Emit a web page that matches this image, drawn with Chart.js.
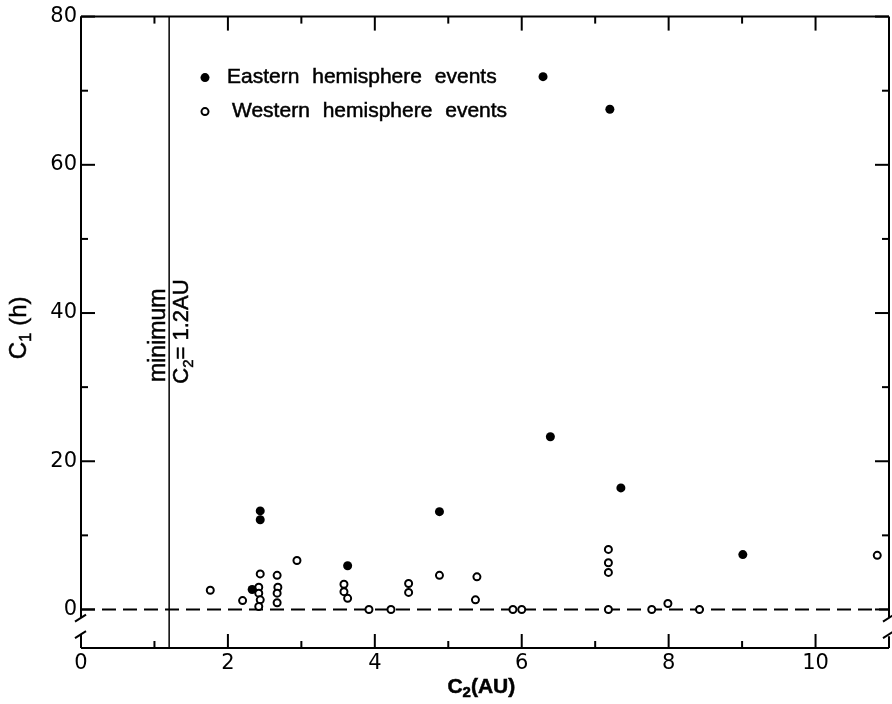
<!DOCTYPE html>
<html>
<head>
<meta charset="utf-8">
<script src="https://cdn.jsdelivr.net/npm/chart.js@4.4.1/dist/chart.umd.min.js"></script>
<style>
  html, body { margin: 0; padding: 0; background: #fff; }
</style>
</head>
<body>
<canvas id="c1c2Chart" width="892" height="704"></canvas>
<script>
// C2 (AU) vs C1 (h)
var eastX = [6.29, 7.20, 6.39, 7.35, 4.88, 2.44, 2.44, 3.63, 9.01, 2.33];
var eastY = [71.9, 67.5, 23.3, 16.4, 13.2, 13.3, 12.1, 5.9, 7.4, 2.7];

var westX = [1.76, 2.20, 2.44, 2.42, 2.42, 2.44, 2.42, 2.67, 2.68, 2.67, 2.67, 2.94,
             3.58, 3.58, 3.63, 3.92, 4.22, 4.46, 4.46, 4.88, 5.39, 5.37, 5.88, 6.00,
             7.18, 7.18, 7.18, 7.18, 7.77, 7.99, 8.42, 10.84];
var westY = [2.6, 1.2, 4.8, 3.0, 2.2, 1.3, 0.4, 4.6, 3.0, 2.2, 0.9, 6.6,
             3.4, 2.4, 1.5, 0, 0, 3.5, 2.3, 4.6, 4.4, 1.3, 0, 0,
             8.1, 6.3, 5.0, 0, 0, 0.8, 0, 7.3];

var minC2 = 1.2;
var xTicks = [0, 2, 4, 6, 8, 10];
var xMinor = [1, 3, 5, 7, 9];
var yTicks = [0, 20, 40, 60, 80];
var yMinor = [10, 30, 50, 70];
var legendLabels = ['Eastern hemisphere events', 'Western hemisphere events'];

function pts(xs, ys) {
    return xs.map(function(x, i) { return { x: x, y: ys[i] }; });
}

function line(ctx, x1, y1, x2, y2) {
    ctx.beginPath();
    ctx.moveTo(x1, y1);
    ctx.lineTo(x2, y2);
    ctx.stroke();
}

// text drawn with a thin outline so it looks like the heavier lettering
function heavyText(ctx, s, x, y) {
    ctx.fillText(s, x, y);
    ctx.strokeText(s, x, y);
}

// draws main + subscript + rest, centred on 0,0 of the current transform
function subText(ctx, main, sub, rest, size, weight) {
    var w = weight || '';
    var big = w + ' ' + size + 'px "Liberation Sans", Arial, sans-serif';
    var small = w + ' ' + Math.round(size * 0.7) + 'px "Liberation Sans", Arial, sans-serif';
    ctx.font = big;
    var w1 = ctx.measureText(main).width;
    var w3 = ctx.measureText(rest).width;
    ctx.font = small;
    var w2 = ctx.measureText(sub).width;
    var x = -(w1 + w2 + w3) / 2;
    ctx.textBaseline = 'middle';
    ctx.textAlign = 'left';
    ctx.font = big;
    heavyText(ctx, main, x, 0);
    ctx.font = small;
    heavyText(ctx, sub, x + w1, size * 0.3);
    ctx.font = big;
    heavyText(ctx, rest, x + w1 + w2, 0);
}

var breakTop = -1.1, breakBot = -3.6;

var framePlugin = {
    id: 'framePlugin',
    beforeDatasetsDraw: function(chart) {
        var ctx = chart.ctx, a = chart.chartArea;
        var x = chart.scales.x, y = chart.scales.y;
        ctx.save();
        ctx.strokeStyle = '#000';
        // dashed zero line
        ctx.lineWidth = 2;
        ctx.setLineDash([14, 7]);
        var y0 = y.getPixelForValue(0);
        line(ctx, a.left, y0, a.right, y0);
        ctx.setLineDash([]);
        // minimum C2 line
        var xm = x.getPixelForValue(minC2);
        ctx.lineWidth = 1.5;
        line(ctx, xm, a.top, xm, a.bottom);
        ctx.restore();
    },
    afterDatasetsDraw: function(chart) {
        var ctx = chart.ctx, a = chart.chartArea;
        var x = chart.scales.x, y = chart.scales.y;
        ctx.save();
        ctx.strokeStyle = '#000';
        ctx.fillStyle = '#000';
        ctx.lineWidth = 2;

        // box, with breaks on the vertical sides
        var yb1 = y.getPixelForValue(breakTop), yb2 = y.getPixelForValue(breakBot);
        line(ctx, a.left, a.top, a.right, a.top);
        line(ctx, a.left, a.bottom, a.right, a.bottom);
        line(ctx, a.left, a.top, a.left, yb1);
        line(ctx, a.left, yb2, a.left, a.bottom);
        line(ctx, a.right, a.top, a.right, yb1);
        line(ctx, a.right, yb2, a.right, a.bottom);
        [a.left, a.right].forEach(function(px) {
            line(ctx, px - 6, yb1 + 4, px + 5, yb1 - 3);
            line(ctx, px - 6, yb2 + 2, px + 5, yb2 - 5);
        });

        // inward ticks
        xTicks.forEach(function(v) {
            var px = x.getPixelForValue(v);
            line(ctx, px, a.bottom, px, a.bottom - 14);
            line(ctx, px, a.top, px, a.top + 14);
        });
        xMinor.forEach(function(v) {
            var px = x.getPixelForValue(v);
            line(ctx, px, a.bottom, px, a.bottom - 7);
            line(ctx, px, a.top, px, a.top + 7);
        });
        yTicks.forEach(function(v) {
            var py = y.getPixelForValue(v);
            line(ctx, a.left, py, a.left + 14, py);
            line(ctx, a.right, py, a.right - 14, py);
        });
        yMinor.forEach(function(v) {
            var py = y.getPixelForValue(v);
            line(ctx, a.left, py, a.left + 7, py);
            line(ctx, a.right, py, a.right - 7, py);
        });

        // legend
        var lx = a.left + 124, ly = a.top + 61;
        ctx.beginPath();
        ctx.arc(lx, ly, 4.5, 0, Math.PI * 2);
        ctx.fill();
        ctx.beginPath();
        ctx.arc(lx, ly + 34, 3.5, 0, Math.PI * 2);
        ctx.stroke();
        ctx.lineWidth = 0.5;
        ctx.font = '21px "Liberation Sans", Arial, sans-serif';
        ctx.textBaseline = 'middle';
        ctx.textAlign = 'left';
        ctx.wordSpacing = '7px';
        heavyText(ctx, legendLabels[0], lx + 22, ly);
        heavyText(ctx, legendLabels[1], lx + 27, ly + 34);
        ctx.wordSpacing = '0px';

        // annotation of the minimum line
        var xm = x.getPixelForValue(minC2);
        ctx.save();
        ctx.translate(xm - 10, y.getPixelForValue(37));
        ctx.rotate(-Math.PI / 2);
        ctx.font = '23px "Liberation Sans", Arial, sans-serif';
        ctx.textAlign = 'center';
        ctx.textBaseline = 'middle';
        heavyText(ctx, 'minimum', 0, 0);
        ctx.restore();
        ctx.save();
        ctx.translate(xm + 13, y.getPixelForValue(37.5));
        ctx.rotate(-Math.PI / 2);
        subText(ctx, 'C', '2', '= 1.2AU', 22);
        ctx.restore();

        // axis titles
        ctx.save();
        ctx.translate(19, y.getPixelForValue(38));
        ctx.rotate(-Math.PI / 2);
        subText(ctx, 'C', '1', ' (h)', 24);
        ctx.restore();
        ctx.save();
        ctx.translate(x.getPixelForValue(5.45), 687);
        subText(ctx, 'C', '2', '(AU)', 21, 'bold');
        ctx.restore();

        ctx.restore();
    }
};

var tickFont = { family: '"DejaVu Sans", sans-serif', size: 21 };

var ctx = document.getElementById('c1c2Chart').getContext('2d');
var chart = new Chart(ctx, {
    type: 'scatter',
    data: {
        datasets: [
            {
                label: legendLabels[0],
                data: pts(eastX, eastY),
                pointRadius: 4.5,
                pointBackgroundColor: '#000',
                pointBorderWidth: 0
            },
            {
                label: legendLabels[1],
                data: pts(westX, westY),
                pointRadius: 3.5,
                pointBackgroundColor: '#fff',
                pointBorderColor: '#000',
                pointBorderWidth: 2
            }
        ]
    },
    options: {
        responsive: false,
        animation: false,
        layout: { padding: { top: 14, right: 3, left: 0, bottom: 0 }, autoPadding: false },
        plugins: { legend: { display: false }, tooltip: { enabled: false } },
        scales: {
            x: {
                type: 'linear',
                min: 0,
                max: 11,
                afterBuildTicks: function(s) { s.ticks = xTicks.map(function(v) { return { value: v }; }); },
                afterFit: function(s) { s.height = 56; },
                grid: { display: false, drawTicks: false },
                border: { display: false },
                ticks: { font: tickFont, color: '#000', padding: 3, autoSkip: false, maxRotation: 0 }
            },
            y: {
                type: 'linear',
                min: -5.2,
                max: 80,
                afterBuildTicks: function(s) { s.ticks = yTicks.map(function(v) { return { value: v }; }); },
                afterFit: function(s) { s.width = 81; },
                grid: { display: false, drawTicks: false },
                border: { display: false },
                ticks: { font: tickFont, color: '#000', padding: 4, autoSkip: false }
            }
        }
    },
    plugins: [framePlugin]
});
</script>
</body>
</html>
